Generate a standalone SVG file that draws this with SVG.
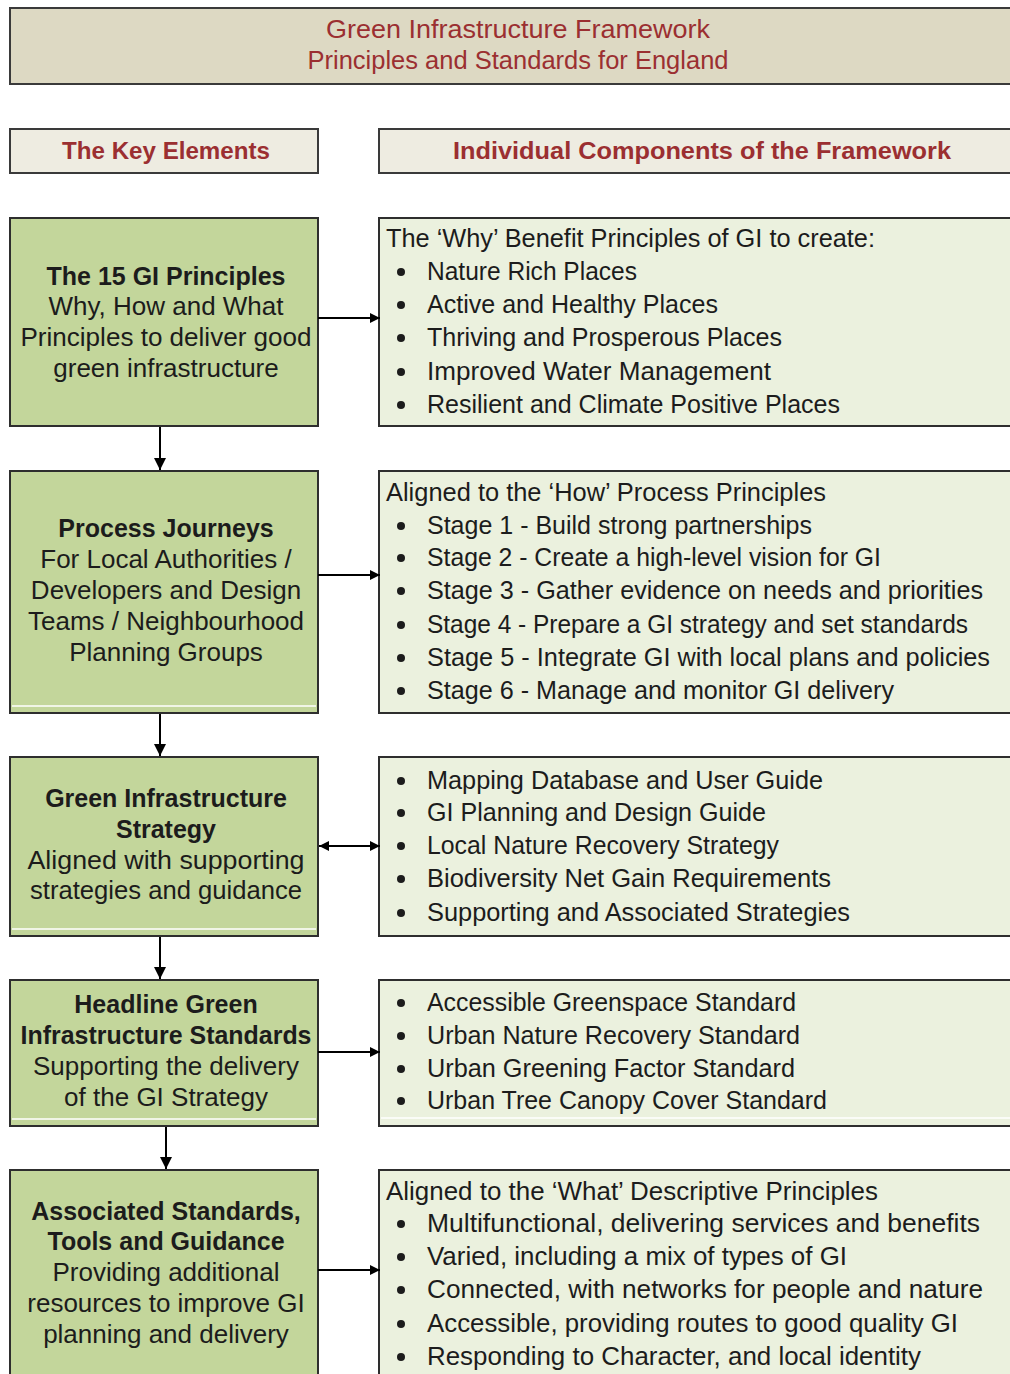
<svg xmlns="http://www.w3.org/2000/svg" width="1010" height="1374" viewBox="0 0 1010 1374">
<defs>
<marker id="ah" viewBox="0 0 10 10" refX="10" refY="5" markerWidth="10" markerHeight="10" markerUnits="userSpaceOnUse" orient="auto-start-reverse">
<path d="M0,0 L10,5 L0,10 Z" fill="#000"/>
</marker>
<marker id="av" viewBox="0 0 12 12" refX="12" refY="6" markerWidth="12" markerHeight="12" markerUnits="userSpaceOnUse" orient="auto-start-reverse">
<path d="M0,0 L12,6 L0,12 Z" fill="#000"/>
</marker>
<style>
.hdr{fill:#ddd9c3;stroke:#3a3a3a;stroke-width:2}
.col{fill:#eeece1;stroke:#3a3a3a;stroke-width:2}
.lb{fill:#c3d69b;stroke:#2e2e2e;stroke-width:2}
.rb{fill:#ebf1de;stroke:#2e2e2e;stroke-width:2}
.hl{stroke:#ffffff;stroke-width:1.6}
text{font-family:"Liberation Sans",Arial,sans-serif;fill:#1c1c1c}
.t{font-size:26.5px;fill:#9b2f31}
.c{font-size:24.5px;font-weight:bold;fill:#9b2f31}
.l{font-size:26px;text-anchor:middle}
.lbld{font-weight:bold;font-size:25px}
.r{font-size:25px}
.bul{fill:#1c1c1c}
.con{stroke:#000;stroke-width:2;fill:none}
</style>
</defs>

<g id="header">
<rect class="hdr" x="10" y="8" width="1010" height="76"/>
<text class="t" x="518" y="38" text-anchor="middle" textLength="384" lengthAdjust="spacingAndGlyphs">Green Infrastructure Framework</text>
<text class="t" x="518" y="69" text-anchor="middle" textLength="421" lengthAdjust="spacingAndGlyphs">Principles and Standards for England</text>
</g>

<g id="col-key">
<rect class="col" x="10" y="129" width="308" height="44"/>
<text class="c" x="166" y="159" text-anchor="middle" textLength="208" lengthAdjust="spacingAndGlyphs">The Key Elements</text>
</g>
<g id="col-components">
<rect class="col" x="379" y="129" width="640" height="44"/>
<text class="c" x="702" y="159" text-anchor="middle" textLength="498" lengthAdjust="spacingAndGlyphs">Individual Components of the Framework</text>
</g>

<g id="left1">
<rect class="lb" x="10" y="218" width="308" height="208"/>
<text class="l lbld" x="166" y="285">The 15 GI Principles</text>
<text class="l" x="166" y="315">Why, How and What</text>
<text class="l" x="166" y="346" textLength="291" lengthAdjust="spacingAndGlyphs">Principles to deliver good</text>
<text class="l" x="166" y="377">green infrastructure</text>
</g>
<g id="right1">
<rect class="rb" x="379" y="218" width="640" height="208"/>
<text class="r" x="386" y="247" textLength="489" lengthAdjust="spacingAndGlyphs">The ‘Why’ Benefit Principles of GI to create:</text>
<g class="bul"><circle cx="401" cy="272" r="4"/><circle cx="401" cy="305" r="4"/><circle cx="401" cy="338" r="4"/><circle cx="401" cy="372" r="4"/><circle cx="401" cy="405" r="4"/></g>
<text class="r" x="427" y="280" textLength="210" lengthAdjust="spacingAndGlyphs">Nature Rich Places</text>
<text class="r" x="427" y="313" textLength="291" lengthAdjust="spacingAndGlyphs">Active and Healthy Places</text>
<text class="r" x="427" y="346" textLength="355" lengthAdjust="spacingAndGlyphs">Thriving and Prosperous Places</text>
<text class="r" x="427" y="380" textLength="344" lengthAdjust="spacingAndGlyphs">Improved Water Management</text>
<text class="r" x="427" y="413" textLength="413" lengthAdjust="spacingAndGlyphs">Resilient and Climate Positive Places</text>
</g>

<g id="left2">
<rect class="lb" x="10" y="471" width="308" height="242"/>
<line class="hl" x1="12" y1="706" x2="316" y2="706"/>
<text class="l lbld" x="166" y="537">Process Journeys</text>
<text class="l" x="166" y="568">For Local Authorities /</text>
<text class="l" x="166" y="599">Developers and Design</text>
<text class="l" x="166" y="630">Teams / Neighbourhood</text>
<text class="l" x="166" y="661">Planning Groups</text>
</g>
<g id="right2">
<rect class="rb" x="379" y="471" width="640" height="242"/>
<text class="r" x="386" y="501" textLength="440" lengthAdjust="spacingAndGlyphs">Aligned to the ‘How’ Process Principles</text>
<g class="bul"><circle cx="401" cy="526" r="4"/><circle cx="401" cy="558" r="4"/><circle cx="401" cy="591" r="4"/><circle cx="401" cy="625" r="4"/><circle cx="401" cy="658" r="4"/><circle cx="401" cy="691" r="4"/></g>
<text class="r" x="427" y="534" textLength="385" lengthAdjust="spacingAndGlyphs">Stage 1 - Build strong partnerships</text>
<text class="r" x="427" y="566" textLength="454" lengthAdjust="spacingAndGlyphs">Stage 2 - Create a high-level vision for GI</text>
<text class="r" x="427" y="599" textLength="556" lengthAdjust="spacingAndGlyphs">Stage 3 - Gather evidence on needs and priorities</text>
<text class="r" x="427" y="633" textLength="541" lengthAdjust="spacingAndGlyphs">Stage 4 - Prepare a GI strategy and set standards</text>
<text class="r" x="427" y="666" textLength="563" lengthAdjust="spacingAndGlyphs">Stage 5 - Integrate GI with local plans and policies</text>
<text class="r" x="427" y="699" textLength="467" lengthAdjust="spacingAndGlyphs">Stage 6 - Manage and monitor GI delivery</text>
</g>

<g id="left3">
<rect class="lb" x="10" y="757" width="308" height="179"/>
<line class="hl" x1="12" y1="929" x2="316" y2="929"/>
<text class="l lbld" x="166" y="807">Green Infrastructure</text>
<text class="l lbld" x="166" y="838">Strategy</text>
<text class="l" x="166" y="869" textLength="277" lengthAdjust="spacingAndGlyphs">Aligned with supporting</text>
<text class="l" x="166" y="899" textLength="272" lengthAdjust="spacingAndGlyphs">strategies and guidance</text>
</g>
<g id="right3">
<rect class="rb" x="379" y="757" width="640" height="179"/>
<g class="bul"><circle cx="401" cy="781" r="4"/><circle cx="401" cy="813" r="4"/><circle cx="401" cy="846" r="4"/><circle cx="401" cy="879" r="4"/><circle cx="401" cy="913" r="4"/></g>
<text class="r" x="427" y="789" textLength="396" lengthAdjust="spacingAndGlyphs">Mapping Database and User Guide</text>
<text class="r" x="427" y="821" textLength="339" lengthAdjust="spacingAndGlyphs">GI Planning and Design Guide</text>
<text class="r" x="427" y="854" textLength="352" lengthAdjust="spacingAndGlyphs">Local Nature Recovery Strategy</text>
<text class="r" x="427" y="887" textLength="404" lengthAdjust="spacingAndGlyphs">Biodiversity Net Gain Requirements</text>
<text class="r" x="427" y="921" textLength="423" lengthAdjust="spacingAndGlyphs">Supporting and Associated Strategies</text>
</g>

<g id="left4">
<rect class="lb" x="10" y="980" width="308" height="146"/>
<line class="hl" x1="12" y1="1119" x2="316" y2="1119"/>
<text class="l lbld" x="166" y="1013">Headline Green</text>
<text class="l lbld" x="166" y="1044" textLength="291" lengthAdjust="spacingAndGlyphs">Infrastructure Standards</text>
<text class="l" x="166" y="1075">Supporting the delivery</text>
<text class="l" x="166" y="1106">of the GI Strategy</text>
</g>
<g id="right4">
<rect class="rb" x="379" y="980" width="640" height="146"/>
<line class="hl" x1="381" y1="1118" x2="1012" y2="1118"/>
<g class="bul"><circle cx="401" cy="1003" r="4"/><circle cx="401" cy="1036" r="4"/><circle cx="401" cy="1069" r="4"/><circle cx="401" cy="1101" r="4"/></g>
<text class="r" x="427" y="1011" textLength="369" lengthAdjust="spacingAndGlyphs">Accessible Greenspace Standard</text>
<text class="r" x="427" y="1044" textLength="373" lengthAdjust="spacingAndGlyphs">Urban Nature Recovery Standard</text>
<text class="r" x="427" y="1077" textLength="368" lengthAdjust="spacingAndGlyphs">Urban Greening Factor Standard</text>
<text class="r" x="427" y="1109" textLength="400" lengthAdjust="spacingAndGlyphs">Urban Tree Canopy Cover Standard</text>
</g>

<g id="left5">
<rect class="lb" x="10" y="1170" width="308" height="215"/>
<text class="l lbld" x="166" y="1220">Associated Standards,</text>
<text class="l lbld" x="166" y="1250">Tools and Guidance</text>
<text class="l" x="166" y="1281">Providing additional</text>
<text class="l" x="166" y="1312">resources to improve GI</text>
<text class="l" x="166" y="1343">planning and delivery</text>
</g>
<g id="right5">
<rect class="rb" x="379" y="1170" width="640" height="215"/>
<text class="r" x="386" y="1200" textLength="492" lengthAdjust="spacingAndGlyphs">Aligned to the ‘What’ Descriptive Principles</text>
<g class="bul"><circle cx="401" cy="1224" r="4"/><circle cx="401" cy="1257" r="4"/><circle cx="401" cy="1290" r="4"/><circle cx="401" cy="1324" r="4"/><circle cx="401" cy="1357" r="4"/></g>
<text class="r" x="427" y="1232" textLength="553" lengthAdjust="spacingAndGlyphs">Multifunctional, delivering services and benefits</text>
<text class="r" x="427" y="1265" textLength="420" lengthAdjust="spacingAndGlyphs">Varied, including a mix of types of GI</text>
<text class="r" x="427" y="1298" textLength="556" lengthAdjust="spacingAndGlyphs">Connected, with networks for people and nature</text>
<text class="r" x="427" y="1332" textLength="531" lengthAdjust="spacingAndGlyphs">Accessible, providing routes to good quality GI</text>
<text class="r" x="427" y="1365" textLength="494" lengthAdjust="spacingAndGlyphs">Responding to Character, and local identity</text>
</g>

<g id="connectors">
<line class="con" x1="318" y1="318" x2="380" y2="318" marker-end="url(#ah)"/>
<line class="con" x1="318" y1="575" x2="380" y2="575" marker-end="url(#ah)"/>
<line class="con" x1="319" y1="846" x2="380" y2="846" marker-start="url(#ah)" marker-end="url(#ah)"/>
<line class="con" x1="318" y1="1052" x2="380" y2="1052" marker-end="url(#ah)"/>
<line class="con" x1="318" y1="1270" x2="380" y2="1270" marker-end="url(#ah)"/>
<line class="con" x1="160" y1="427" x2="160" y2="470" marker-end="url(#av)"/>
<line class="con" x1="160" y1="714" x2="160" y2="756" marker-end="url(#av)"/>
<line class="con" x1="160" y1="937" x2="160" y2="979" marker-end="url(#av)"/>
<line class="con" x1="166" y1="1127" x2="166" y2="1169" marker-end="url(#av)"/>
</g>
</svg>
